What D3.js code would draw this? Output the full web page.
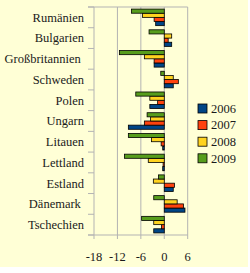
<!DOCTYPE html>
<html>
<head>
<meta charset="utf-8">
<script src="https://cdn.jsdelivr.net/npm/d3@7"></script>
<style>
  body { margin: 0; background: #ffffff; }
</style>
</head>
<body>
<svg id="chart" width="250" height="273"></svg>
<script>
// categories, top to bottom (trailing spaces are in the original labels)
let countries = ["Rumänien", "Bulgarien", "Großbritannien ", "Schweden", "Polen", "Ungarn",
                 "Litauen", "Lettland", "Estland", "Dänemark ", "Tschechien"];
let years = ["2006", "2007", "2008", "2009"];

// one array per year, same order as countries
let v2006 = [-2.2, 1.9, -2.6, 2.3, -3.7, -9.2, -0.4, -0.4, 2.3, 5.3, -2.7];
let v2007 = [-2.6, 1.0, -2.6, 3.6, -1.7, -5.1, -0.8, -0.3, 2.6, 4.9, -0.7];
let v2008 = [-5.6, 1.9, -5.1, 2.3, -3.7, -3.5, -3.3, -4.1, -2.8, 3.3, -2.7];
let v2009 = [-8.4, -3.9, -11.5, -0.9, -7.3, -4.4, -9.2, -10.2, -1.5, -2.7, -5.8];
let xTicks = [-18, -12, -6, 0, 6];

let series = [v2006, v2007, v2008, v2009];
let colors = ["#004586", "#ff420e", "#ffd320", "#579d1c"];

let svg = d3.select("#chart")
   .attr("font-family", "'Liberation Serif', 'Times New Roman', 'DejaVu Serif', serif")
   .attr("font-size", "12.5px");

// light yellow page background
svg.append("rect")
   .attr("x", 0).attr("y", 0)
   .attr("width", 248).attr("height", 267)
   .style("fill", "#ffffd6");

let plot = {left: 94, right: 187.7, top: 7, bottom: 235};

let x = d3.scaleLinear().domain([-18, 6]).range([plot.left, plot.right]);
let y = d3.scaleBand().domain(d3.range(countries.length))
          .range([plot.top, plot.bottom]).paddingInner(0.2).paddingOuter(0.1);
// 2009 on top, 2006 at the bottom inside each group
let ySub = d3.scaleBand().domain([3, 2, 1, 0]).range([0, y.bandwidth()]);
let band = (plot.bottom - plot.top) / countries.length;

//vertical gridlines
svg.append("g").selectAll("line").data(xTicks).enter().append("line")
   .attr("x1", function(d){return x(d);}).attr("x2", function(d){return x(d);})
   .attr("y1", plot.top).attr("y2", plot.bottom + 4)
   .style("stroke", "#b3b3b3").style("stroke-width", 1);

//top line and bottom axis line
svg.append("line")
   .attr("x1", plot.left - 6).attr("x2", plot.right)
   .attr("y1", plot.top).attr("y2", plot.top)
   .style("stroke", "#b3b3b3");
svg.append("line")
   .attr("x1", plot.left - 6).attr("x2", plot.right)
   .attr("y1", plot.bottom).attr("y2", plot.bottom)
   .style("stroke", "#b3b3b3");

//category ticks on the left axis
svg.append("g").selectAll("line").data(d3.range(countries.length + 1)).enter().append("line")
   .attr("x1", plot.left - 6).attr("x2", plot.left)
   .attr("y1", function(i){return plot.top + i * band;})
   .attr("y2", function(i){return plot.top + i * band;})
   .style("stroke", "#b3b3b3");

//bars
let groups = svg.append("g").selectAll("g").data(countries).enter().append("g")
   .attr("transform", function(d, i){return "translate(0," + y(i) + ")";});

groups.selectAll("rect")
   .data(function(d, i){ return series.map(function(s, k){ return {k: k, v: s[i]}; }); })
   .enter().append("rect")
   .attr("x", function(d){return x(Math.min(0, d.v));})
   .attr("y", function(d){return ySub(d.k);})
   .attr("width", function(d){return Math.abs(x(d.v) - x(0));})
   .attr("height", ySub.bandwidth())
   .style("fill", function(d){return colors[d.k];})
   .style("stroke", "#000").style("stroke-width", 0.8);

//category labels
svg.append("g").selectAll("text").data(countries).enter().append("text")
   .attr("x", 84)
   .attr("y", function(d, i){return plot.top + (i + 0.5) * band;})
   .attr("dy", "0.35em")
   .attr("text-anchor", "end")
   .attr("fill", "#1a1a1a")
   .style("white-space", "pre")
   .text(function(d){return d;});

//value tick labels
svg.append("g").selectAll("text").data(xTicks).enter().append("text")
   .attr("x", function(d){return x(d);})
   .attr("y", 257)
   .attr("dy", "0.35em")
   .attr("text-anchor", "middle")
   .attr("fill", "#1a1a1a")
   .text(function(d){return d;});

//legend
let legend = svg.append("g").selectAll("g").data(years).enter().append("g")
   .attr("transform", function(d, i){return "translate(198," + (104 + i * 16.6) + ")";});
legend.append("rect")
   .attr("width", 9).attr("height", 9)
   .style("fill", function(d, i){return colors[i];})
   .style("stroke", "#000").style("stroke-width", 0.8);
legend.append("text")
   .attr("x", 13).attr("y", 4.5).attr("dy", "0.35em")
   .attr("fill", "#1a1a1a")
   .text(function(d){return d;});
</script>
</body>
</html>
